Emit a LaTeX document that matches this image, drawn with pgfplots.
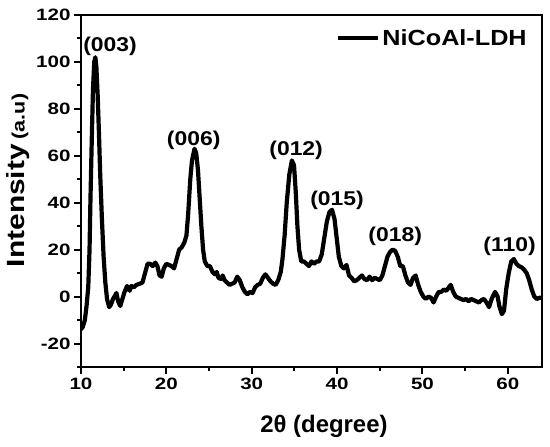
\documentclass[border=0pt]{standalone}
\usepackage{fontspec}
\setmainfont{Liberation Sans}
\newfontfamily\tickfont{Liberation Sans}[FakeStretch=1.25]
\newfontfamily\lblfont{Liberation Sans}[FakeStretch=1.15]
\newfontfamily\ylblfont{Liberation Sans}[FakeStretch=1.2]
\usepackage{pgfplots}
\pgfplotsset{compat=1.18}
\begin{document}
\begin{tikzpicture}
\useasboundingbox (-81bp,-80bp) rectangle (469bp,367bp);
\begin{axis}[
  at={(0,0)}, anchor=south west,
  scale only axis, width=461bp, height=352bp,
  xmin=10, xmax=64, ymin=-30, ymax=120,
  xtick={10,20,...,60}, minor xtick={15,25,...,55},
  ytick={-20,0,...,120}, minor ytick={-30,-10,...,110},
  tick pos=left, tick align=outside,
  major tick length=7bp, minor tick length=4bp,
  every tick/.append style={line width=2bp, black},
  every minor tick/.append style={line width=2bp, black},
  axis line style={line width=2.3bp},
  /pgf/number format/assume math mode=true,
  tick label style={font=\tickfont\bfseries\fontsize{16.5}{18}\selectfont},
  xlabel={2θ (degree)},
  xlabel style={at={(axis description cs:0.527,-0.17)}, anchor=center, font=\bfseries\fontsize{24}{28}\selectfont},
  ylabel={{\fontsize{25}{28}\selectfont Intensity}\hspace{5bp}{\fontsize{18}{22}\selectfont(a.u)}},
  ylabel style={at={(axis description cs:-0.136,0.53)}, anchor=center, font=\ylblfont\bfseries},
  legend style={draw=none, fill=none, at={(axis description cs:0.978,0.935)}, anchor=east,
    font=\lblfont\bfseries\fontsize{22}{24}\selectfont},
  legend image code/.code={\draw[line width=4.2bp] (-6bp,0bp) -- (34bp,0bp);},
]
\addplot[black, line width=4.2bp, line join=round] coordinates {
(10.0,-14) (10.2,-13) (10.45,-10) (10.65,-4) (10.85,4) (11.0,20) (11.1,40) (11.25,65)
(11.4,88) (11.55,100) (11.68,102) (11.8,98) (11.95,86) (12.1,70) (12.25,52) (12.45,33)
(12.65,17) (12.85,6) (13.05,-1) (13.3,-4.5) (13.5,-3.5) (13.75,-1) (14.0,0.5) (14.15,1.5)
(14.35,-2) (14.6,-4) (14.85,-1) (15.1,2) (15.4,4.5) (15.7,2.5) (15.9,4.5) (16.2,4)
(16.5,5) (16.9,5.5) (17.2,6) (17.5,10) (17.8,14) (18.1,14) (18.4,13) (18.7,14.5)
(18.95,13) (19.2,9) (19.45,8.5) (19.7,12) (20.0,14) (20.3,13.5) (20.6,13) (20.9,12)
(21.2,16) (21.5,20) (21.8,21) (22.1,23) (22.35,26) (22.55,35) (22.8,50) (23.0,58)
(23.3,63) (23.5,61) (23.7,54) (23.9,42) (24.1,30) (24.3,20) (24.5,15) (24.8,13)
(25.1,13) (25.4,10.5) (25.7,9.5) (25.9,10.5) (26.1,8) (26.4,7.5) (26.6,9) (26.8,7)
(27.1,6) (27.4,5) (27.7,5.5) (28.0,6) (28.3,8.5) (28.6,7) (28.9,4) (29.2,2)
(29.5,1) (29.8,2) (30.1,1.5) (30.4,4) (30.7,5) (31.0,5.5) (31.3,8) (31.6,9.5)
(31.9,8) (32.2,6.5) (32.5,5.5) (32.8,5) (33.1,7) (33.4,10.5) (33.6,16) (33.85,26)
(34.1,40) (34.4,52) (34.7,58) (34.95,56) (35.15,45) (35.35,30) (35.55,20) (35.8,15)
(36.1,15) (36.4,14) (36.7,13) (37.0,15) (37.3,14) (37.6,15) (37.9,15) (38.2,18)
(38.5,25) (38.8,32) (39.1,36) (39.4,37) (39.7,33) (39.95,25) (40.2,17) (40.5,13)
(40.8,12) (41.1,13.5) (41.4,9) (41.7,8) (42.0,6.5) (42.3,7) (42.6,8) (42.9,9)
(43.2,7.5) (43.5,7) (43.8,8.5) (44.1,7) (44.4,8) (44.7,7.5) (45.0,7) (45.3,9)
(45.6,13) (45.9,17) (46.2,19) (46.5,20) (46.8,19.5) (47.1,17) (47.4,13) (47.7,13)
(48.0,9) (48.3,6) (48.6,5) (48.9,8) (49.2,9) (49.5,5) (49.8,2) (50.1,0)
(50.4,-1) (50.7,0) (51.0,-0.5) (51.3,-2.5) (51.6,0) (51.9,2) (52.2,2) (52.5,3)
(52.8,2.5) (53.1,4) (53.3,5) (53.6,2) (53.9,0) (54.2,-0.5) (54.5,-1) (54.8,-1.5)
(55.1,-1) (55.4,-2) (55.7,-1) (56.0,-1.5) (56.3,-2) (56.6,-2.5) (56.9,-1.5) (57.2,-1)
(57.5,-2.5) (57.8,-4.5) (58.1,-1) (58.5,2) (58.8,0) (59.0,-4) (59.3,-7.5) (59.55,-6)
(59.8,3) (60.1,10) (60.4,15) (60.7,16) (61.0,14) (61.3,13) (61.6,12.5) (61.9,11.5)
(62.2,10) (62.5,7) (62.8,3) (63.1,0) (63.4,-1) (63.7,-0.5) (64.0,-0.5)
};
\addlegendentry{NiCoAl-LDH}
\begin{scope}[every node/.style={font=\lblfont\bfseries\fontsize{20}{22}\selectfont}]
\node at (axis cs:13.4,106.8) {(003)};
\node at (axis cs:23.2,66.7) {(006)};
\node at (axis cs:35.2,62.4) {(012)};
\node at (axis cs:40.0,41) {(015)};
\node at (axis cs:46.8,25.6) {(018)};
\node at (axis cs:60.2,21.4) {(110)};
\end{scope}
\end{axis}
\end{tikzpicture}
\end{document}
